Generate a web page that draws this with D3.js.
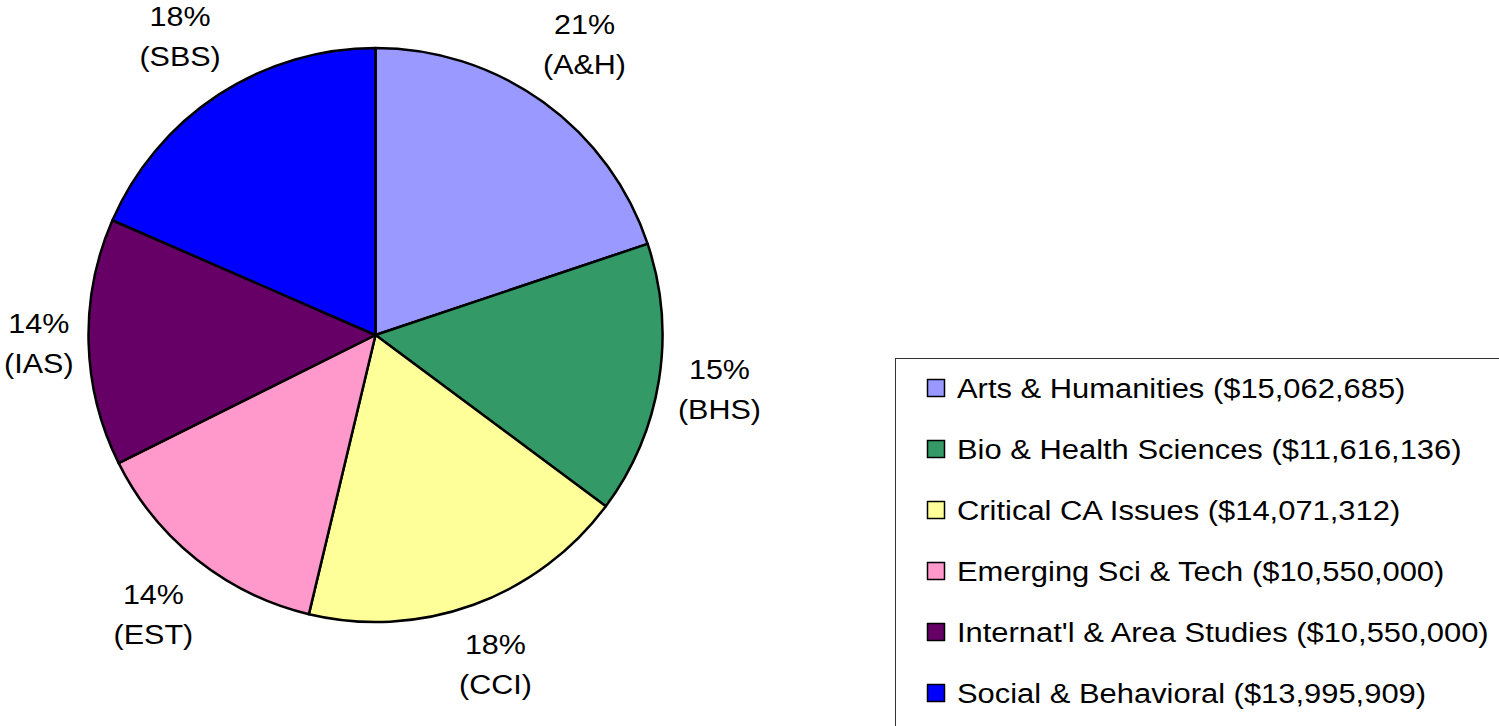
<!DOCTYPE html>
<html>
<head>
<meta charset="utf-8">
<script src="https://cdn.jsdelivr.net/npm/d3@7"></script>
<style>
  body { margin: 0; background: #fff; }
  svg { display: block; font-family: "Liberation Sans", Arial, sans-serif; }
</style>
</head>
<body>
<div class="piechart"></div>
<script>
var names = ["Arts & Humanities", "Bio & Health Sciences", "Critical CA Issues",
             "Emerging Sci & Tech", "Internat'l & Area Studies", "Social & Behavioral"];
var amounts = [15062685, 11616136, 14071312, 10550000, 10550000, 13995909];
var amountLabels = ["$15,062,685", "$11,616,136", "$14,071,312", "$10,550,000", "$10,550,000", "$13,995,909"];
var shortNames = ["A&H", "BHS", "CCI", "EST", "IAS", "SBS"];
var pctLabels = ["21%", "15%", "18%", "14%", "14%", "18%"];
var colors = ["#9999ff", "#339966", "#ffff99", "#ff99cc", "#660066", "#0000ff"];

var width = 1499, height = 726;
var cx = 375.5, cy = 335, radius = 287;

var data = names.map(function (n, i) {
  return { name: n, value: amounts[i], amount: amountLabels[i], short: shortNames[i], pct: pctLabels[i], color: colors[i] };
});

var svg = d3.select(".piechart").append("svg")
    .attr("width", width)
    .attr("height", height);

var pie = d3.pie()
  .sort(null)
  .value(function (d) { return d.value; });

var arc = d3.arc()
  .innerRadius(0)
  .outerRadius(radius);

var arcs = pie(data);

var g = svg.append("g")
    .attr("transform", "translate(" + cx + "," + cy + ")");

g.selectAll("path")
  .data(arcs)
  .enter().append("path")
    .attr("d", arc)
    .attr("fill", function (d) { return d.data.color; })
    .attr("stroke", "#000")
    .attr("stroke-width", 2.5)
    .attr("stroke-linejoin", "round");

// labels outside the pie, pushed out by their own box size
var lineH = 40, stretch = 1.13;
arcs.forEach(function (d) {
  var a = (d.startAngle + d.endAngle) / 2;
  var s = Math.sin(a), c = -Math.cos(a);
  var lg = g.append("g");
  var t = lg.append("text")
    .attr("text-anchor", "middle")
    .attr("transform", "scale(" + stretch + ",1)")
    .style("font-size", "27px")
    .attr("fill", "#000");
  t.append("tspan").attr("x", 0).attr("dy", 0).text(d.data.pct);
  t.append("tspan").attr("x", 0).attr("dy", lineH).text("(" + d.data.short + ")");
  var w = t.node().getBBox().width * stretch, h = lineH * 2;
  var dist = radius + 14 + Math.abs(s) * w / 2 + Math.abs(c) * h / 2;
  var px = s * dist, py = c * dist;
  lg.attr("transform", "translate(" + px + "," + (py - lineH / 2 + 9) + ")");
});

// legend
var legend = svg.append("g")
    .attr("transform", "translate(895,358)");

legend.append("rect")
    .attr("x", 0.5)
    .attr("y", 0.5)
    .attr("width", 640)
    .attr("height", 400)
    .attr("fill", "#fff")
    .attr("stroke", "#333")
    .attr("stroke-width", 1);

var rowY = d3.scalePoint()
  .domain(names)
  .range([30, 335]);

var rows = legend.selectAll(".row")
  .data(data)
  .enter().append("g")
    .attr("class", "row")
    .attr("transform", function (d) { return "translate(0," + rowY(d.name) + ")"; });

rows.append("rect")
    .attr("x", 32.5)
    .attr("y", -8.5)
    .attr("width", 17)
    .attr("height", 17)
    .attr("fill", function (d) { return d.color; })
    .attr("stroke", "#000")
    .attr("stroke-width", 1.5);

rows.append("text")
    .attr("transform", "translate(62,10) scale(1.145,1)")
    .style("font-size", "27px")
    .attr("fill", "#000")
    .text(function (d) { return d.name + " (" + d.amount + ")"; });
</script>
</body>
</html>
